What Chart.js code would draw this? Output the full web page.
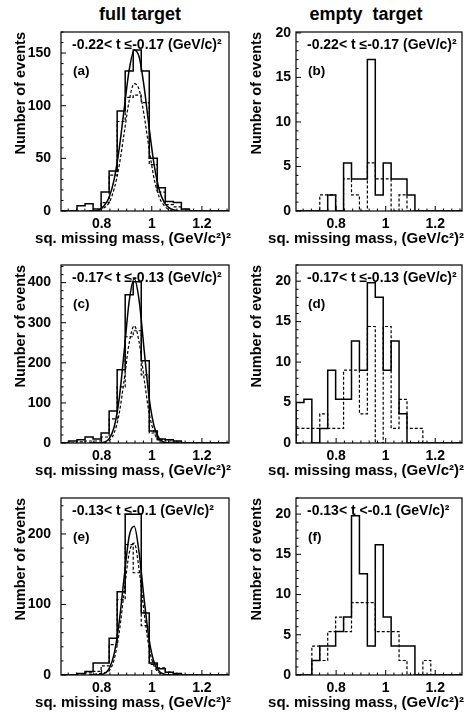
<!DOCTYPE html>
<html><head><meta charset="utf-8">
<script src="https://cdn.jsdelivr.net/npm/chart.js@4/dist/chart.umd.min.js"></script>
<style>
html,body{margin:0;padding:0;background:#fff;}
body{width:476px;height:715px;position:relative;overflow:hidden;font-family:"Liberation Sans",Arial,sans-serif;}
canvas{position:absolute;}
.head{position:absolute;font-weight:bold;font-size:18px;white-space:pre;transform:translateX(-50%);line-height:22px;}
</style></head><body>
<div class="head" style="left:140px;top:3px">full target</div>
<div class="head" style="left:366px;top:3px">empty  target</div>
<canvas id="pa"></canvas><canvas id="pb"></canvas>
<canvas id="pc"></canvas><canvas id="pd"></canvas>
<canvas id="pe"></canvas><canvas id="pf"></canvas>
<script>
// ---- data ----
const binLow = [0.638,0.670,0.702,0.734,0.766,0.798,0.830,0.862,0.894,0.926,0.958,0.990,1.022,1.054,1.086,1.118,1.150,1.182,1.214,1.246,1.278];
const binWidth = 0.032;
const fitX = [0.75,0.77,0.79,0.81,0.83,0.85,0.87,0.89,0.91,0.93,0.95,0.97,0.99,1.01,1.03,1.05,1.07,1.09,1.11];
const xTicks = [0.8, 1.0, 1.2];

const fullA = [0,0,5,7,2,18,38,95,133,153,133,50,22,9,8,2,0,0,0,0,0];
const fullA_dash = [0,0,0,0,0,8,34,85,108,110,103,44,18,6,4,1,0,0,0,0,0];
const fullA_fit = [0,0,1,5,13,30,59,97,134,153,146,117,78,43,20,8,3,1,0];
const fullA_fitDash = [0,0,1,3,8,21,43,74,105,121,115,90,58,30,13,5,1,0,0];

const emptyB = [0,0,0,0,1.8,0,5.4,3.6,3.6,17,1.8,5.4,3.6,3.6,1.8,0,0,0,0,0,0];
const emptyB_dash = [0,0,0,1.8,1.8,0,3.6,1.8,0,5.4,3.6,3.6,0,1.8,0,0,0,0,0,0,0];

const fullC = [0,5,8,15,10,25,80,183,370,402,205,30,10,8,5,0,0,0,0,0,0];
const fullC_dash = [0,0,3,5,5,15,60,140,265,280,170,25,8,5,2,0,0,0,0,0,0];
const fullC_fit = [0,0,0,2,11,40,110,229,354,410,354,229,110,40,11,2,0,0,0];
const fullC_fitDash = [0,0,0,1,6,25,73,158,250,292,250,158,73,25,6,1,0,0,0];

const emptyD = [5,5.4,0,1.8,9,5.4,5.4,12.6,9,19.8,18,9,12.6,3.6,0,0,0,0,0,0,0];
const emptyD_dash = [1.8,1.8,1.8,3.6,1.8,1.8,9,9,3.6,14.4,0,14.4,1.8,5.4,1.8,1.8,0,0,0,0,0];

const fullE = [0,0,2,5,17,17,52,118,228,228,88,17,9,4,2,0,0,0,0,0,0];
const fullE_dash = [0,0,0,3,5,13,43,107,185,145,70,15,10,4,1,0,0,0,0,0,0];
const fullE_fit = [0,0,0,2,9,30,75,139,197,211,172,106,49,17,5,1,0,0,0];
const fullE_fitDash = [0,1,2,3,6,22,60,118,173,187,148,87,37,12,3,1,0,0,0];

const emptyF = [0,0,1.8,3.6,3.6,5.4,7.2,19.8,12.6,3.6,16.2,7.2,3.6,3.6,3.6,0,0,0,0,0,0];
const emptyF_dash = [0,0,3.6,1.8,5.4,7.2,5.4,9,9,9,5.4,5.4,5.4,1.8,0,0,1.8,0,0,0,0];

const yTicksA = [0,50,100,150], yTicksB = [0,5,10,15,20], yTicksC = [0,100,200,300,400];
const yTicksD = [0,5,10,15,20], yTicksE = [0,100,200], yTicksF = [0,5,10,15,20];

const xTitle = 'sq. missing mass, (GeV/c²)²';
const yTitle = 'Number of events';

// ---- helpers ----
const FONT = '"Liberation Sans", Arial, sans-serif';
function histPoints(counts){
  const pts = [{x: binLow[0], y: 0}];
  counts.forEach((c, i) => pts.push({x: binLow[i], y: c}));
  pts.push({x: binLow[binLow.length-1] + binWidth, y: 0});
  return pts;
}
function fitPoints(vals){ return fitX.map((x,i)=>({x, y: vals[i]})); }

const rootFrame = {
  id: 'rootFrame',
  afterDatasetsDraw(chart, args, o){
    const {ctx, chartArea: a, scales: {x, y}} = chart;
    ctx.save();
    ctx.strokeStyle = '#000'; ctx.lineWidth = 1.2;
    ctx.strokeRect(a.left, a.top, a.right - a.left, a.bottom - a.top);
    ctx.lineWidth = 1;
    const n0 = Math.ceil(y.min / o.yMinor - 1e-9), n1 = Math.floor(y.max / o.yMinor + 1e-9);
    for (let i = n0; i <= n1; i++) {
      const v = i * o.yMinor;
      const major = Math.abs(v / o.yMajor - Math.round(v / o.yMajor)) < 1e-6;
      const py = y.getPixelForValue(v);
      ctx.beginPath(); ctx.moveTo(a.left, py); ctx.lineTo(a.left + (major ? 5 : 2.5), py); ctx.stroke();
    }
    const step = 0.2 / o.xDiv;
    const m0 = Math.ceil((x.min - 0.8) / step - 1e-9), m1 = Math.floor((x.max - 0.8) / step + 1e-9);
    for (let i = m0; i <= m1; i++) {
      const v = 0.8 + i * step;
      const major = ((i % o.xDiv) + o.xDiv) % o.xDiv === 0;
      const px = x.getPixelForValue(v);
      ctx.beginPath(); ctx.moveTo(px, a.bottom); ctx.lineTo(px, a.bottom - (major ? 5 : 2.5)); ctx.stroke();
    }
    ctx.fillStyle = '#000';
    ctx.font = 'bold 14px ' + FONT;
    ctx.textBaseline = 'middle'; ctx.textAlign = 'left';
    ctx.fillText(o.range, a.left + 11, a.top + 13);
    ctx.font = 'bold 13.5px ' + FONT;
    ctx.fillText(o.tag, a.left + 12, a.top + 39);
    ctx.font = 'bold 15px ' + FONT;
    ctx.textBaseline = 'alphabetic'; ctx.textAlign = 'right';
    ctx.fillText(xTitle, a.right + 2, a.bottom + 32);
    ctx.restore();
  }
};

function makePanel(id, g, sets, yMax, yTicks, yMinor, yMajor, range, tag){
  const cv = document.getElementById(id);
  const XH = 38;
  const W = 238, H = 32 + (g.boxB - g.boxT) + XH;
  cv.width = W; cv.height = H;
  cv.style.left = g.cLeft + 'px'; cv.style.top = (g.boxT - 32) + 'px';
  cv.style.width = W + 'px'; cv.style.height = H + 'px';
  const datasets = [];
  const base = {borderColor: '#000', pointRadius: 0, fill: false};
  if (sets.dash) datasets.push({...base, data: histPoints(sets.dash), stepped: 'before', borderWidth: 1.2, borderDash: [3,2]});
  if (sets.fitDash) datasets.push({...base, data: fitPoints(sets.fitDash), cubicInterpolationMode: 'monotone', borderWidth: 1.2, borderDash: [3,2]});
  datasets.push({...base, data: histPoints(sets.solid), stepped: 'before', borderWidth: 1.5});
  if (sets.fit) datasets.push({...base, data: fitPoints(sets.fit), cubicInterpolationMode: 'monotone', borderWidth: 1.5});
  const tickFont = {family: FONT, size: 14, weight: 'bold'};
  new Chart(cv, {
    type: 'line',
    data: {datasets},
    options: {
      responsive: false, animation: false, devicePixelRatio: 1,
      layout: {padding: {top: 32, left: 0, bottom: 0, right: W - (g.boxR - g.cLeft)}},
      plugins: {legend: {display: false}, tooltip: {enabled: false},
        rootFrame: {range, tag, yMinor, yMajor, xDiv: 6}},
      scales: {
        x: {type: 'linear', min: 0.638, max: 1.308,
          afterBuildTicks: s => { s.ticks = xTicks.map(v => ({value: v})); },
          afterFit: s => { s.height = XH; },
          grid: {display: false, drawTicks: false}, border: {display: false},
          ticks: {padding: 5, font: tickFont, color: '#000', maxRotation: 0, autoSkip: false,
            callback: v => String(Number(v.toFixed(2)))}
        },
        y: {type: 'linear', min: 0, max: yMax,
          afterBuildTicks: s => { s.ticks = yTicks.map(v => ({value: v})); },
          afterFit: s => { s.width = g.boxL - g.cLeft; },
          grid: {display: false, drawTicks: false}, border: {display: false},
          ticks: {padding: g.tickPad, font: tickFont, color: '#000', autoSkip: false},
          title: {display: true, text: yTitle, align: 'end', color: '#000',
            font: {family: FONT, size: 14.5, weight: 'bold'}, padding: {top: g.titlePad, bottom: 0}}
        }
      }
    },
    plugins: [rootFrame]
  });
}

const L = {cLeft: 0, boxL: 61, boxR: 229, tickPad: 10, titlePad: 12};
const R = {cLeft: 238, boxL: 296, boxR: 462, tickPad: 5, titlePad: 10};
const rows = [{boxT: 32, boxB: 211}, {boxT: 265, boxB: 443}, {boxT: 498, boxB: 675}];

makePanel('pa', {...L, ...rows[0]}, {solid: fullA, dash: fullA_dash, fit: fullA_fit, fitDash: fullA_fitDash}, 170, yTicksA, 10, 50, '-0.22< t ≤-0.17 (GeV/c)²', '(a)');
makePanel('pb', {...R, ...rows[0]}, {solid: emptyB, dash: emptyB_dash}, 20.1, yTicksB, 1, 5, '-0.22< t ≤-0.17 (GeV/c)²', '(b)');
makePanel('pc', {...L, ...rows[1]}, {solid: fullC, dash: fullC_dash, fit: fullC_fit, fitDash: fullC_fitDash}, 444, yTicksC, 20, 100, '-0.17< t ≤-0.13 (GeV/c)²', '(c)');
makePanel('pd', {...R, ...rows[1]}, {solid: emptyD, dash: emptyD_dash}, 22, yTicksD, 1, 5, '-0.17< t ≤-0.13 (GeV/c)²', '(d)');
makePanel('pe', {...L, ...rows[2]}, {solid: fullE, dash: fullE_dash, fit: fullE_fit, fitDash: fullE_fitDash}, 251, yTicksE, 20, 100, '-0.13< t ≤-0.1 (GeV/c)²', '(e)');
makePanel('pf', {...R, ...rows[2]}, {solid: emptyF, dash: emptyF_dash}, 22, yTicksF, 1, 5, '-0.13< t <-0.1 (GeV/c)²', '(f)');
</script>
</body></html>
